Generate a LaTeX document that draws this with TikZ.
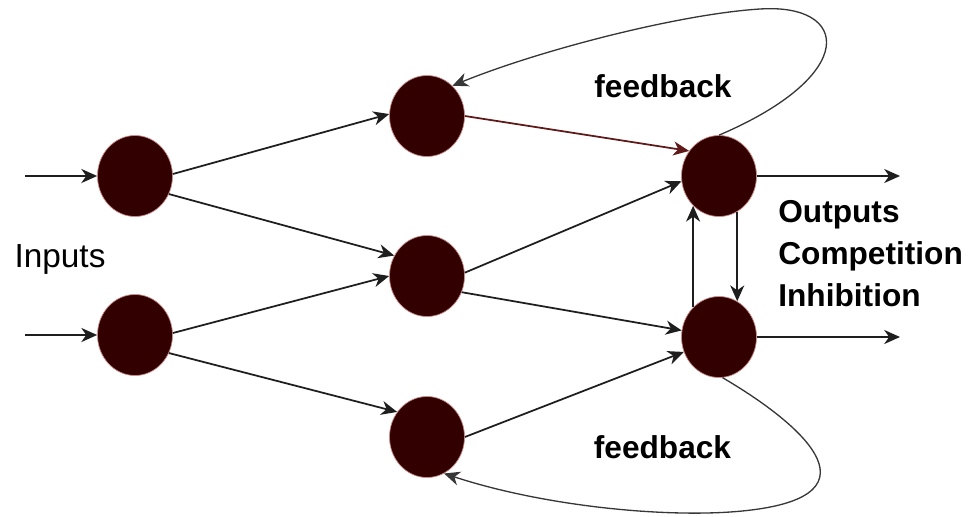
\documentclass[tikz,border=0pt]{standalone}
\usepackage{fontspec}
\setmainfont{Liberation Sans}
\usepackage{tikz}
\usetikzlibrary{arrows.meta,shapes.geometric}
\definecolor{cnode}{RGB}{51,0,0}
\definecolor{crim}{RGB}{200,140,140}
\definecolor{cline}{RGB}{30,30,30}
\definecolor{cred}{RGB}{95,25,25}
\definecolor{cfb}{RGB}{55,55,55}

\begin{document}
\begin{tikzpicture}[
  neuron/.style={ellipse, fill=cnode, draw=crim, line width=0.4pt, inner sep=0pt,
                 minimum width=1.5cm, minimum height=1.62cm},
  lbl/.style={font=\fontsize{18}{21}\selectfont\bfseries, inner sep=0pt},
  edge/.style={-{Stealth[length=9pt, width=8pt, inset=2.8pt]}, line width=1pt, draw=cline},
  fb/.style={-{Stealth[length=9pt, width=8pt, inset=2.8pt]}, line width=0.75pt, draw=cfb}]
\useasboundingbox (0,0) rectangle (19.44,10.32);
% neurons
\node[neuron] (i1) at (2.70,6.80) {};
\node[neuron] (i2) at (2.70,3.62) {};
\node[neuron] (h1) at (8.54,8.00) {};
\node[neuron] (h2) at (8.54,4.80) {};
\node[neuron] (h3) at (8.54,1.58) {};
\node[neuron] (o1) at (14.38,6.80) {};
\node[neuron] (o2) at (14.38,3.58) {};
% free ends
\coordinate (in1) at (0.50,6.80);
\coordinate (in2) at (0.50,3.62);
\coordinate (out1) at (18.00,6.80);
\coordinate (out2) at (18.00,3.58);
% inputs and outputs
\draw[edge] (in1) -- (i1.west);
\draw[edge] (in2) -- (i2.west);
\draw[edge] (o1.east) -- (out1);
\draw[edge] (o2.east) -- (out2);
% forward connections
\draw[edge] (i1.3) -- (h1.177);
\draw[edge] (i1.-28) -- (h2.148);
\draw[edge] (i2.3) -- (h2.west);
\draw[edge] (i2.-28) -- (h3.140);
\draw[edge, draw=cred] (h1.east) -- (o1.140);
\draw[edge] (h2.5) -- (o1.188);
\draw[edge] (h2.-25) -- (o2.170);
\draw[edge] (h3.east) -- (o2.203);
% competition between outputs
\draw[edge] (o2.131) -- (o1.229);
\draw[edge] (o1.297) -- (o2.63);
% feedback loops
\draw[fb] (o1.north) .. controls (17.2,8.82) and (17.0,10.26) .. (15.2,10.14)
          .. controls (13.6,10.04) and (10.8,9.32) .. (h1.50);
\draw[fb] (o2.-85) .. controls (16.1,1.8) and (17.8,0.3) .. (14.6,0.08)
          .. controls (13.1,-0.02) and (10.8,0.22) .. (h3.-65);
% labels
\node[lbl, anchor=base] (fbtop) at (13.26,8.38) {feedback};
\node[lbl, anchor=base] (fbbot) at (13.25,1.16) {feedback};
\node[font=\fontsize{19}{22}\selectfont, inner sep=0pt, anchor=base] (inl) at (1.20,4.98) {Inputs};
\node[lbl, anchor=base west] (outl) at (15.56,5.88) {Outputs};
\node[lbl, anchor=base west] (compl) at (15.56,5.04) {Competition};
\node[lbl, anchor=base west] (inhl) at (15.56,4.20) {Inhibition};
\end{tikzpicture}
\end{document}
